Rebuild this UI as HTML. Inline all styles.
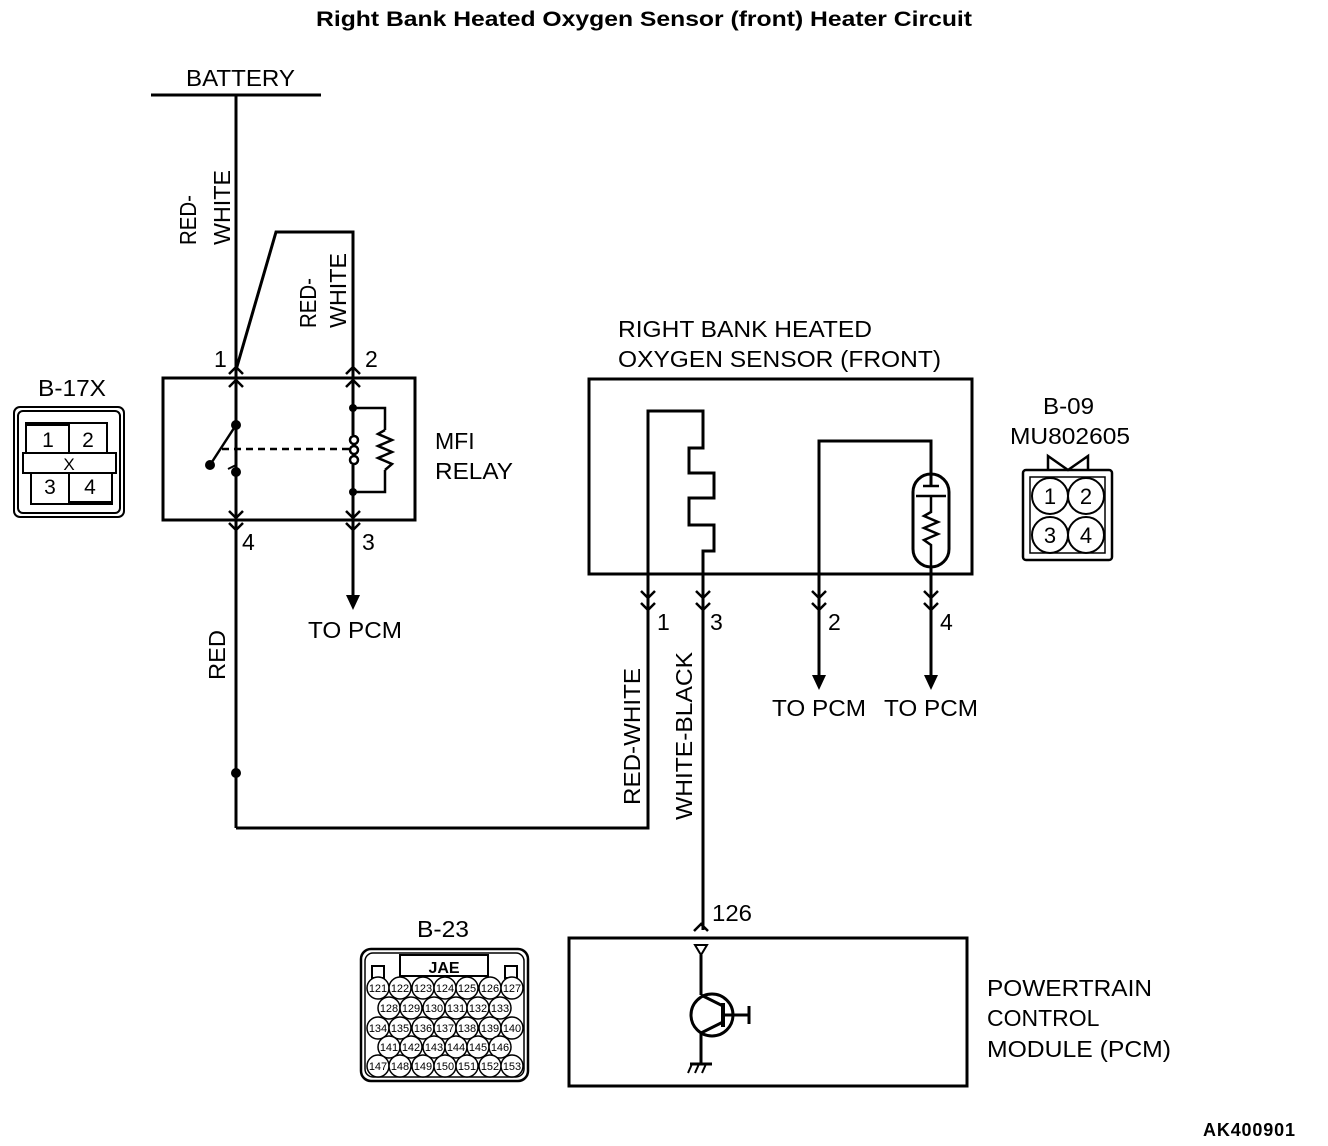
<!DOCTYPE html>
<html><head><meta charset="utf-8"><style>
html,body{margin:0;padding:0;background:#fff;}
svg{display:block;}
text{font-family:"Liberation Sans",sans-serif;fill:#000;}
</style></head><body>
<svg width="1328" height="1146" viewBox="0 0 1328 1146" xmlns="http://www.w3.org/2000/svg">
<defs>
<g id="dn"><path d="M-7,-7 L0,0 L7,-7" fill="none" stroke="#000" stroke-width="2.5"/></g>
<g id="up"><path d="M-7,7 L0,0 L7,7" fill="none" stroke="#000" stroke-width="2.5"/></g>
</defs>
<text x="316" y="26" font-size="21" font-weight="bold" textLength="656" lengthAdjust="spacingAndGlyphs">Right Bank Heated Oxygen Sensor (front) Heater Circuit</text>

<g stroke="#000" stroke-width="3" fill="none">
<line x1="151" y1="95" x2="321" y2="95"/>
<line x1="236" y1="95" x2="236" y2="828"/>
<polyline points="236,370 276,232 353,232 353,378"/>
<rect x="163" y="378" width="252" height="142"/>
<line x1="353" y1="378" x2="353" y2="435"/>
<line x1="353" y1="465" x2="353" y2="595"/>
<polyline points="353,408 385,408 385,430" stroke-width="2.5"/>
<polyline points="353,492 385,492 385,470" stroke-width="2.5"/>
<polyline points="385,430 378,434 392,440 378,446 392,452 378,458 392,464 385,470" stroke-width="2.5"/>
<line x1="236" y1="472" x2="236" y2="520"/>
<line x1="210" y1="465" x2="236" y2="425" stroke-width="2.5"/>
<line x1="222" y1="449" x2="350" y2="449" stroke-width="2.5" stroke-dasharray="7,5"/>
<path d="M236,465 L228,469" stroke-width="2"/>
<polyline points="236,828 648,828 648,411 703,411 703,448 689,448 689,473 714,473 714,498 689,498 689,525 714,525 714,551 703,551 703,930"/>
<rect x="589" y="379" width="383" height="195"/>
<polyline points="819,678 819,441 931,441 931,678"/>
<rect x="913" y="474" width="36" height="93" rx="18" ry="18" fill="#fff"/>
<line x1="931" y1="441" x2="931" y2="486"/>
<line x1="923" y1="486" x2="939" y2="486" stroke-width="2.5"/>
<line x1="916" y1="496" x2="946" y2="496" stroke-width="2.5"/>
<polyline points="931,496 931,512 924,516 938,522 924,528 938,534 924,540 931,545 931,678" stroke-width="2.5"/>
<rect x="569" y="938" width="398" height="148"/>
<line x1="701" y1="955" x2="701" y2="995"/>
<circle cx="712" cy="1015" r="21"/>
<line x1="723" y1="1003" x2="723" y2="1027" stroke-width="4"/>
<line x1="723" y1="1015" x2="749" y2="1015"/>
<line x1="749" y1="1006" x2="749" y2="1024"/>
<line x1="701" y1="995" x2="723" y2="1006"/>
<line x1="723" y1="1022" x2="701" y2="1033"/>
<line x1="701" y1="1033" x2="701" y2="1064"/>
<line x1="690" y1="1064" x2="712" y2="1064"/>
<g stroke-width="2"><line x1="692" y1="1064" x2="688" y2="1073"/><line x1="699" y1="1064" x2="695" y2="1073"/><line x1="706" y1="1064" x2="702" y2="1073"/></g>
<path d="M695,945 L707,945 L701,955 Z" stroke-width="2"/>
</g>
<g fill="none" stroke="#000" stroke-width="2.5">
<ellipse cx="354" cy="440" rx="4" ry="4"/><ellipse cx="354" cy="450" rx="4" ry="4"/><ellipse cx="354" cy="460" rx="4" ry="4"/>
</g>
<g fill="#000">
<circle cx="236" cy="425" r="5"/><circle cx="236" cy="472" r="5"/><circle cx="210" cy="465" r="5"/>
<circle cx="353" cy="408" r="4"/><circle cx="353" cy="492" r="4"/>
<circle cx="236" cy="773" r="5"/>
<path d="M346,595 L360,595 L353,610 Z"/>
<path d="M812,675 L826,675 L819,690 Z"/>
<path d="M924,675 L938,675 L931,690 Z"/>
</g>
<use href="#up" x="236" y="367"/><use href="#up" x="236" y="380"/>
<use href="#up" x="353" y="367"/><use href="#up" x="353" y="380"/>
<use href="#dn" x="236" y="518"/><use href="#dn" x="236" y="530"/>
<use href="#dn" x="353" y="518"/><use href="#dn" x="353" y="530"/>
<use href="#dn" x="648" y="598"/><use href="#dn" x="648" y="610"/>
<use href="#dn" x="703" y="598"/><use href="#dn" x="703" y="610"/>
<use href="#dn" x="819" y="598"/><use href="#dn" x="819" y="610"/>
<use href="#dn" x="931" y="598"/><use href="#dn" x="931" y="610"/>
<use href="#up" x="701" y="924"/>

<g font-size="23">
<text x="186" y="86" textLength="109" lengthAdjust="spacingAndGlyphs">BATTERY</text>
<text x="214" y="367">1</text><text x="365" y="367">2</text>
<text x="242" y="550">4</text><text x="362" y="550">3</text>
<text x="435" y="449">MFI</text><text x="435" y="479" textLength="78" lengthAdjust="spacingAndGlyphs">RELAY</text>
<text x="308" y="638" textLength="94" lengthAdjust="spacingAndGlyphs">TO PCM</text>
<text x="618" y="337" textLength="254" lengthAdjust="spacingAndGlyphs">RIGHT BANK HEATED</text>
<text x="618" y="367" textLength="323" lengthAdjust="spacingAndGlyphs">OXYGEN SENSOR (FRONT)</text>
<text x="657" y="630">1</text><text x="710" y="630">3</text><text x="828" y="630">2</text><text x="940" y="630">4</text>
<text x="772" y="716" textLength="94" lengthAdjust="spacingAndGlyphs">TO PCM</text><text x="884" y="716" textLength="94" lengthAdjust="spacingAndGlyphs">TO PCM</text>
<text x="1043" y="414" textLength="51" lengthAdjust="spacingAndGlyphs">B-09</text>
<text x="1010" y="444" textLength="120" lengthAdjust="spacingAndGlyphs">MU802605</text>
<text x="38" y="396" textLength="68" lengthAdjust="spacingAndGlyphs">B-17X</text>
<text x="712" y="921" textLength="40" lengthAdjust="spacingAndGlyphs">126</text>
<text x="417" y="937" textLength="52" lengthAdjust="spacingAndGlyphs">B-23</text>
<text x="987" y="996" textLength="165" lengthAdjust="spacingAndGlyphs">POWERTRAIN</text>
<text x="987" y="1026">CONTROL</text>
<text x="987" y="1057" textLength="184" lengthAdjust="spacingAndGlyphs">MODULE (PCM)</text>
<text transform="translate(196,245) rotate(-90)" textLength="50" lengthAdjust="spacingAndGlyphs">RED-</text>
<text transform="translate(230,245) rotate(-90)" textLength="75" lengthAdjust="spacingAndGlyphs">WHITE</text>
<text transform="translate(316,328) rotate(-90)" textLength="50" lengthAdjust="spacingAndGlyphs">RED-</text>
<text transform="translate(346,328) rotate(-90)" textLength="75" lengthAdjust="spacingAndGlyphs">WHITE</text>
<text transform="translate(225,680) rotate(-90)" textLength="50" lengthAdjust="spacingAndGlyphs">RED</text>
<text transform="translate(640,805) rotate(-90)" textLength="137" lengthAdjust="spacingAndGlyphs">RED-WHITE</text>
<text transform="translate(692,820) rotate(-90)" textLength="168" lengthAdjust="spacingAndGlyphs">WHITE-BLACK</text>
</g>
<text x="1203" y="1136" font-size="18" font-weight="bold" textLength="92">AK400901</text>

<g fill="none" stroke="#000">
<rect x="14" y="407" width="110" height="110" rx="6" stroke-width="2"/>
<rect x="18" y="411" width="102" height="102" rx="5" stroke-width="2"/>
<rect x="26" y="423" width="81" height="30" stroke-width="2"/>
<line x1="69" y1="423" x2="69" y2="453" stroke-width="2"/>
<line x1="26" y1="424" x2="69" y2="424" stroke-width="4"/>
<rect x="23" y="453" width="93" height="20" stroke-width="2"/>
<rect x="31" y="473" width="81" height="31" stroke-width="2"/>
<line x1="69" y1="473" x2="69" y2="504" stroke-width="2"/>
<line x1="69" y1="503" x2="112" y2="503" stroke-width="4"/>
</g>
<g font-size="21" text-anchor="middle">
<text x="48" y="447">1</text><text x="88" y="447">2</text>
<text x="50" y="494">3</text><text x="90" y="494">4</text>
<text x="69" y="470" font-size="17">X</text>
</g>

<g fill="none" stroke="#000" stroke-width="2.5">
<polyline points="1048,470 1048,456 1068,470 1088,456 1088,470"/>
<rect x="1023" y="470" width="89" height="90" rx="3"/>
<rect x="1030" y="477" width="75" height="76" stroke-width="1.5"/>
<circle cx="1050" cy="496" r="18" stroke-width="2"/><circle cx="1086" cy="496" r="18" stroke-width="2"/>
<circle cx="1050" cy="535" r="18" stroke-width="2"/><circle cx="1086" cy="535" r="18" stroke-width="2"/>
</g>
<g font-size="22" text-anchor="middle">
<text x="1050" y="504">1</text><text x="1086" y="504">2</text>
<text x="1050" y="543">3</text><text x="1086" y="543">4</text>
</g>

<g fill="none" stroke="#000">
<rect x="361" y="949" width="167" height="132" rx="10" stroke-width="2.5"/>
<rect x="365" y="953" width="159" height="124" rx="8" stroke-width="1.5"/>
<rect x="400" y="955" width="88" height="21" stroke-width="2"/>
<rect x="372" y="966" width="12" height="12" stroke-width="2"/>
<rect x="505" y="966" width="12" height="12" stroke-width="2"/>
</g>
<text x="444" y="973" font-size="16" font-weight="bold" text-anchor="middle" font-family="Liberation Mono">JAE</text>
<g fill="#fff" stroke="#000" stroke-width="1.5">
<circle cx="378" cy="988" r="11"/><circle cx="400" cy="988" r="11"/><circle cx="423" cy="988" r="11"/><circle cx="445" cy="988" r="11"/><circle cx="467" cy="988" r="11"/><circle cx="490" cy="988" r="11"/><circle cx="512" cy="988" r="11"/>
<circle cx="389" cy="1008" r="11"/><circle cx="411" cy="1008" r="11"/><circle cx="434" cy="1008" r="11"/><circle cx="456" cy="1008" r="11"/><circle cx="478" cy="1008" r="11"/><circle cx="500" cy="1008" r="11"/>
<circle cx="378" cy="1028" r="11"/><circle cx="400" cy="1028" r="11"/><circle cx="423" cy="1028" r="11"/><circle cx="445" cy="1028" r="11"/><circle cx="467" cy="1028" r="11"/><circle cx="490" cy="1028" r="11"/><circle cx="512" cy="1028" r="11"/>
<circle cx="389" cy="1047" r="11"/><circle cx="411" cy="1047" r="11"/><circle cx="434" cy="1047" r="11"/><circle cx="456" cy="1047" r="11"/><circle cx="478" cy="1047" r="11"/><circle cx="500" cy="1047" r="11"/>
<circle cx="378" cy="1066" r="11"/><circle cx="400" cy="1066" r="11"/><circle cx="423" cy="1066" r="11"/><circle cx="445" cy="1066" r="11"/><circle cx="467" cy="1066" r="11"/><circle cx="490" cy="1066" r="11"/><circle cx="512" cy="1066" r="11"/>
</g>
<g font-size="11" text-anchor="middle">
<text x="378" y="992">121</text><text x="400" y="992">122</text><text x="423" y="992">123</text><text x="445" y="992">124</text><text x="467" y="992">125</text><text x="490" y="992">126</text><text x="512" y="992">127</text>
<text x="389" y="1012">128</text><text x="411" y="1012">129</text><text x="434" y="1012">130</text><text x="456" y="1012">131</text><text x="478" y="1012">132</text><text x="500" y="1012">133</text>
<text x="378" y="1032">134</text><text x="400" y="1032">135</text><text x="423" y="1032">136</text><text x="445" y="1032">137</text><text x="467" y="1032">138</text><text x="490" y="1032">139</text><text x="512" y="1032">140</text>
<text x="389" y="1051">141</text><text x="411" y="1051">142</text><text x="434" y="1051">143</text><text x="456" y="1051">144</text><text x="478" y="1051">145</text><text x="500" y="1051">146</text>
<text x="378" y="1070">147</text><text x="400" y="1070">148</text><text x="423" y="1070">149</text><text x="445" y="1070">150</text><text x="467" y="1070">151</text><text x="490" y="1070">152</text><text x="512" y="1070">153</text>
</g>
</svg>
</body></html>
